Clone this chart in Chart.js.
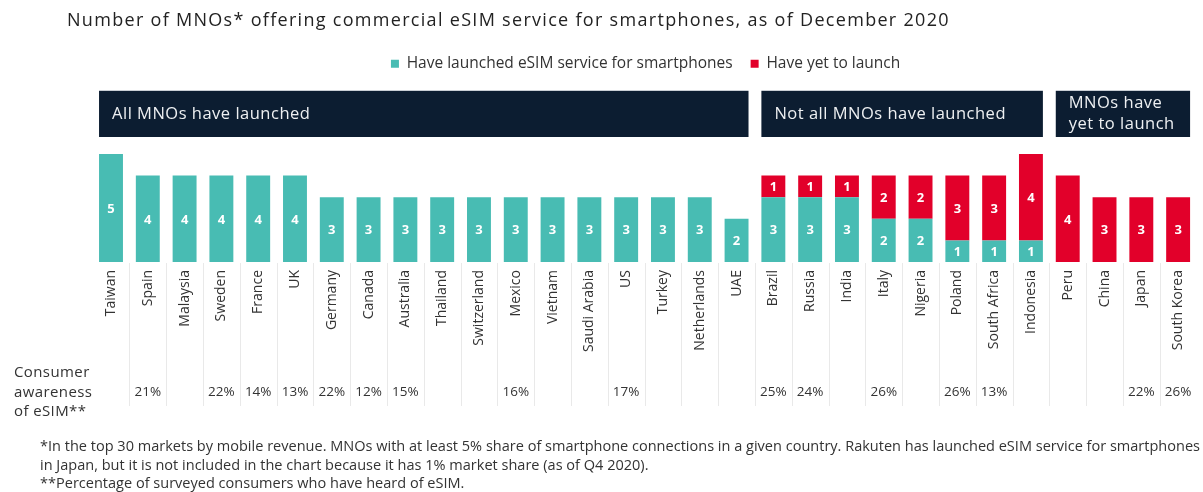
<!DOCTYPE html>
<html>
<head>
<meta charset="utf-8">
<script src="https://cdn.jsdelivr.net/npm/chart.js@4/dist/chart.umd.min.js"></script>
<style>
  html, body { margin: 0; padding: 0; background: #fff; }
  #wrap { position: relative; width: 1203px; height: 492px; overflow: hidden; font-family: "Open Sans", sans-serif; color: #2b2b2b; }
  #chart { position: absolute; left: 0; top: 0; }
  .title { position: absolute; left: 67px; top: 7px; font-size: 18px; letter-spacing: 1.3px; font-weight: 500; color: #222; white-space: nowrap; }
  .awareness { position: absolute; left: 14px; top: 362px; font-size: 15px; letter-spacing: 0.4px; line-height: 19.5px; color: #333; }
  .notes { position: absolute; left: 40px; top: 437px; font-size: 14.5px; line-height: 18.5px; color: #333; white-space: nowrap; transform-origin: 0 0; }
  .notes span { display: inline-block; }
</style>
</head>
<body>
<div id="wrap">
  <canvas id="chart" width="1203" height="492"></canvas>
  <div class="title">Number of MNOs* offering commercial eSIM service for smartphones, as of December 2020</div>
  <div class="awareness">Consumer<br>awareness<br>of eSIM**</div>
  <div class="notes" id="notes"><span id="note1">*In the top 30 markets by mobile revenue. MNOs with at least 5% share of smartphone connections in a given country. Rakuten has launched eSIM service for smartphones</span><br><span>in Japan, but it is not included in the chart because it has 1% market share (as of Q4 2020).</span><br><span>**Percentage of surveyed consumers who have heard of eSIM.</span></div>
</div>
<script>
// Markets, ordered by launch status
const categories = ['Taiwan', 'Spain', 'Malaysia', 'Sweden', 'France', 'UK', 'Germany', 'Canada', 'Australia',
  'Thailand', 'Switzerland', 'Mexico', 'Vietnam', 'Saudi Arabia', 'US', 'Turkey', 'Netherlands', 'UAE',
  'Brazil', 'Russia', 'India', 'Italy', 'Nigeria', 'Poland', 'South Africa', 'Indonesia',
  'Peru', 'China', 'Japan', 'South Korea'];

// Number of MNOs that have launched eSIM for smartphones
const launched = [5, 4, 4, 4, 4, 4, 3, 3, 3, 3, 3, 3, 3, 3, 3, 3, 3, 2,
  3, 3, 3, 2, 2, 1, 1, 1,
  0, 0, 0, 0];

// Number of MNOs that have yet to launch
const yetToLaunch = [0, 0, 0, 0, 0, 0, 0, 0, 0, 0, 0, 0, 0, 0, 0, 0, 0, 0,
  1, 1, 1, 2, 2, 3, 3, 4,
  4, 3, 3, 3];

// Consumer awareness of eSIM (%), null where not surveyed
const awareness = [null, 21, null, 22, 14, 13, 22, 12, 15, null, null, 16, null, null, 17, null, null, null,
  25, 24, null, 26, null, 26, 13, null,
  null, null, 22, 26];

const seriesNames = ['Have launched eSIM service for smartphones', 'Have yet to launch'];

// Status groups shown as header banners
const groupLabels = [['All MNOs have launched'], ['Not all MNOs have launched'], ['MNOs have', 'yet to launch']];
const groupFirst = ['Taiwan', 'Brazil', 'Peru'];
const groupLast = ['UAE', 'Indonesia', 'South Korea'];

const TEAL = '#48bcb3';
const RED = '#e2002a';
const NAVY = '#0c1d31';
const FONT = '"Open Sans", sans-serif';

// footnotes are set in a condensed style: squeeze them to the page width
(function fitNotes() {
  const notes = document.getElementById('notes');
  const w = document.getElementById('note1').getBoundingClientRect().width;
  if (w > 0) notes.style.transform = 'scaleX(' + (1160 / w) + ')';
})();

const decorations = {
  id: 'decorations',
  beforeLayout(chart) {
    const lg = chart.legend;
    if (lg && !lg._bandFixed) {
      const fit = lg.fit;
      lg.fit = function () { fit.call(this); this.height = 116; };
      lg._bandFixed = true;
    }
  },
  afterDatasetsDraw(chart) {
    const ctx = chart.ctx;
    ctx.save();
    ctx.fillStyle = '#ffffff';
    ctx.font = 'bold 13px ' + FONT;
    ctx.textAlign = 'center';
    ctx.textBaseline = 'middle';
    chart.data.datasets.forEach((ds, di) => {
      chart.getDatasetMeta(di).data.forEach((bar, i) => {
        const v = ds.data[i];
        if (!v) return;
        ctx.fillText(String(v), bar.x, (bar.y + bar.base) / 2 + 1);
      });
    });
    ctx.restore();
  },
  afterDraw(chart) {
    const ctx = chart.ctx;
    const x = chart.scales.x;
    const area = chart.chartArea;
    const bars = chart.getDatasetMeta(0).data;
    ctx.save();

    // column separators under the bars
    ctx.strokeStyle = '#e9e9e9';
    ctx.lineWidth = 1;
    for (let i = 0; i < categories.length - 1; i++) {
      const sx = Math.round((x.getPixelForValue(i) + x.getPixelForValue(i + 1)) / 2) + 0.5;
      ctx.beginPath();
      ctx.moveTo(sx, area.bottom + 1);
      ctx.lineTo(sx, area.bottom + 144);
      ctx.stroke();
    }

    // awareness row
    ctx.fillStyle = '#333';
    ctx.font = '13.5px ' + FONT;
    ctx.textAlign = 'center';
    ctx.textBaseline = 'middle';
    awareness.forEach((v, i) => {
      if (v == null) return;
      ctx.fillText(v + '%', x.getPixelForValue(i), area.bottom + 130);
    });

    // group banners
    const top = area.top - 63, bottom = area.top - 17;
    groupLabels.forEach((lines, g) => {
      const a = categories.indexOf(groupFirst[g]);
      const b = categories.indexOf(groupLast[g]);
      const x1 = bars[a].x - bars[a].width / 2;
      const x2 = bars[b].x + bars[b].width / 2;
      ctx.fillStyle = '#c9ced4';
      ctx.fillRect(x1, top - 1, x2 - x1, 1);
      ctx.fillStyle = NAVY;
      ctx.fillRect(x1, top, x2 - x1, bottom - top);
      ctx.fillStyle = '#eef0f2';
      ctx.font = '16.5px ' + FONT;
      if ('letterSpacing' in ctx) ctx.letterSpacing = '0.5px';
      ctx.textAlign = 'left';
      ctx.textBaseline = 'middle';
      const mid = (top + bottom) / 2;
      const lh = 21;
      lines.forEach((t, k) => {
        ctx.fillText(t, x1 + 13, mid + (k - (lines.length - 1) / 2) * lh);
      });
      if ('letterSpacing' in ctx) ctx.letterSpacing = '0px';
    });
    ctx.restore();
  }
};

new Chart(document.getElementById('chart'), {
  type: 'bar',
  data: {
    labels: categories,
    datasets: [
      { label: seriesNames[0], data: launched, backgroundColor: TEAL },
      { label: seriesNames[1], data: yetToLaunch, backgroundColor: RED }
    ]
  },
  options: {
    responsive: false,
    animation: false,
    devicePixelRatio: 1,
    layout: { padding: { left: 92.6, right: 4.4, top: 38, bottom: 0 } },
    datasets: { bar: { categoryPercentage: 1, barPercentage: 0.65, borderWidth: 0 } },
    plugins: {
      title: { display: false },
      tooltip: { enabled: false },
      legend: {
        display: true,
        position: 'top',
        align: 'center',
        labels: {
          boxWidth: 8, boxHeight: 8, padding: 18, color: '#333',
          font: { family: FONT, size: 15.5 }
        }
      }
    },
    scales: {
      x: {
        stacked: true,
        offset: true,
        grid: { display: false, drawTicks: false },
        border: { display: false },
        ticks: {
          autoSkip: false, minRotation: 90, maxRotation: 90, padding: 8,
          color: '#333', font: { family: FONT, size: 14 }
        },
        afterFit(scale) { scale.height = 230; }
      },
      y: {
        stacked: true,
        display: false,
        min: 0,
        max: 5
      }
    }
  },
  plugins: [decorations]
});
</script>
</body>
</html>
